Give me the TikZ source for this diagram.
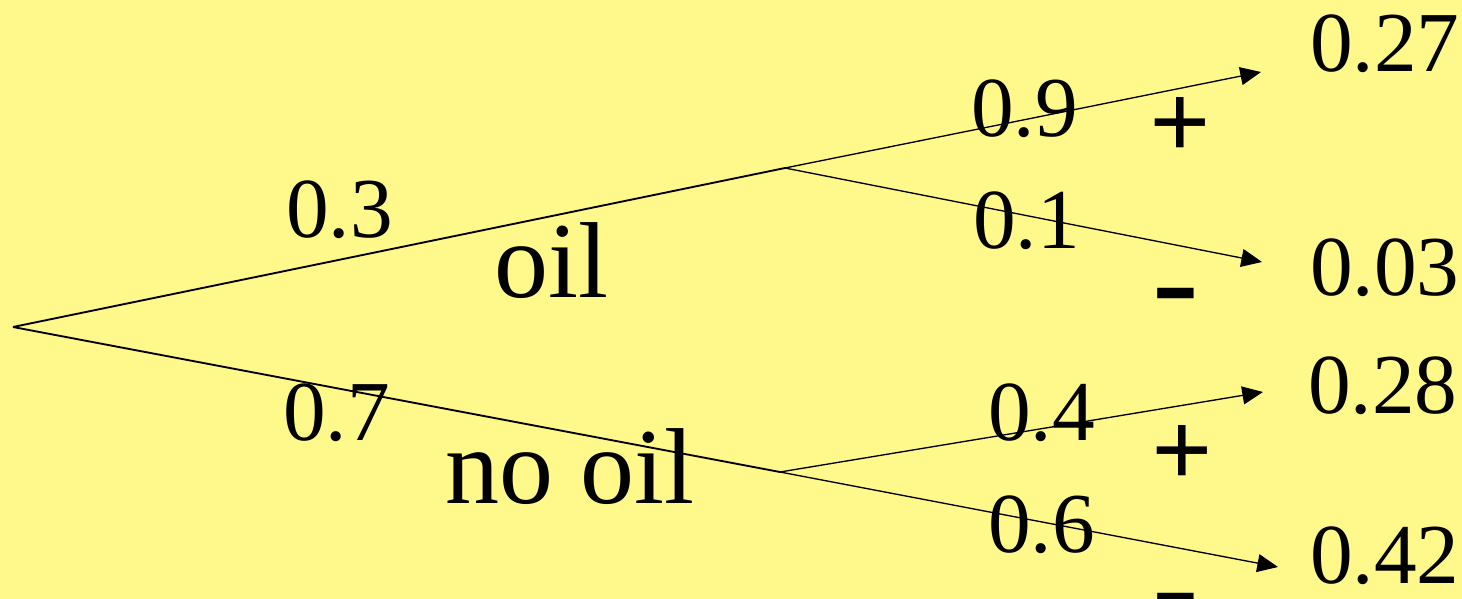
\documentclass[tikz,border=0pt]{standalone}
\usepackage{fontspec}
\setmainfont{Liberation Serif}
\usetikzlibrary{arrows.meta}
\definecolor{bgyellow}{RGB}{255,249,140}
\tikzset{
  branch/.style={line width=1.4pt, black},
  outcome/.style={line width=1pt, black, -{Triangle[length=15.5pt,width=13.5pt]}},
  prob/.style={inner sep=0pt, anchor=base west, font=\fontsize{64}{70}\selectfont},
  event/.style={inner sep=0pt, anchor=base west, font=\fontsize{81}{90}\selectfont},
  plussign/.style={inner sep=0pt, anchor=center, font=\bfseries\fontsize{81}{90}\selectfont},
  minussign/.style={inner sep=0pt, anchor=center, font=\fontsize{105}{110}\selectfont},
}
\begin{document}
\begin{tikzpicture}[x=0.75pt,y=-0.75pt]
  \fill[bgyellow] (0,0) rectangle (1462,599);
  \useasboundingbox (0,0) rectangle (1462,599);

  % branch points and arrow ends
  \coordinate (root)  at (13,327);
  \coordinate (oil)   at (785,168);
  \coordinate (nooil) at (780,472);
  \coordinate (oilp)  at (1261,72);
  \coordinate (oilm)  at (1262,262);
  \coordinate (nooilp) at (1263,392);
  \coordinate (nooilm) at (1278,567);

  % first stage
  \draw[branch] (root) -- (oil);
  \draw[branch] (root) -- (nooil);

  % second stage
  \draw[outcome] (oil) -- (oilp);
  \draw[outcome] (oil) -- (oilm);
  \draw[outcome] (nooil) -- (nooilp);
  \draw[outcome] (nooil) -- (nooilm);

  % branch probabilities
  \node[prob] (p3) at (286,237) {0.3};
  \node[prob] (p7) at (283,440) {0.7};
  \node[prob] (p9) at (971,137) {0.9};
  \node[prob] (p1) at (973,248) {0.1};
  \node[prob] (p4) at (988,440) {0.4};
  \node[prob] (p6) at (988,552) {0.6};

  % events
  \node[event] (loil)   at (494,297) {oil};
  \node[event] (lnooil) at (445,503) {no oil};

  % test results
  \node[plussign] (s1) at (1180,128) {+};
  \node[minussign] (s2) at (1176,307) {-};
  \node[plussign] (s3) at (1182,456) {+};
  \node[minussign] (s4) at (1176,612) {-};

  % joint probabilities
  \node[prob] (j1) at (1310,72)  {0.27};
  \node[prob] (j2) at (1310,295) {0.03};
  \node[prob] (j3) at (1308,413) {0.28};
  \node[prob] (j4) at (1310,583) {0.42};
\end{tikzpicture}
\end{document}
